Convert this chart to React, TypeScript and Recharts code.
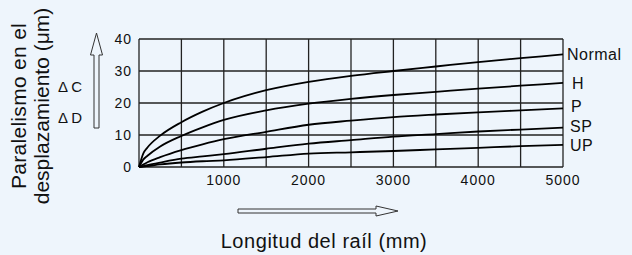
import React from "react";
import {
  LineChart,
  Line,
  XAxis,
  YAxis,
  CartesianGrid,
} from "recharts";

// rail length (mm)
const lengths = [0, 50, 100, 250, 500, 750, 1000, 1500, 2000, 2500, 3000, 3500, 4000, 4500, 5000];

// parallelism in motion (μm) per accuracy class
const normal = [0, 4.2, 6.1, 9.8, 14, 17.3, 20, 24, 26.6, 28.5, 30, 31.4, 32.8, 34, 35.2];
const high = [0, 2.3, 3.5, 6.4, 9.7, 12.4, 14.7, 17.7, 19.8, 21.3, 22.5, 23.5, 24.5, 25.4, 26.3];
const precision = [0, 0.8, 1.5, 3.1, 5.3, 7.1, 8.7, 11, 13.2, 14.5, 15.6, 16.4, 17.1, 17.7, 18.3];
const superPrecision = [0, 0.3, 0.6, 1.4, 2.6, 3.3, 4, 5.7, 7.3, 8.4, 9.5, 10.3, 11.1, 11.7, 12.3];
const ultraPrecision = [0, 0.15, 0.3, 0.8, 1.4, 1.8, 2.1, 3.1, 4.2, 4.6, 5, 5.5, 6, 6.5, 6.9];

const seriesNames = ["Normal", "H", "P", "SP", "UP"];
const seriesKeys = ["normal", "h", "p", "sp", "up"];

const xTicks = [0, 500, 1000, 1500, 2000, 2500, 3000, 3500, 4000, 4500, 5000];
const yTicks = [0, 10, 20, 30, 40];

const data = lengths.map((len, i) => ({
  len,
  normal: normal[i],
  h: high[i],
  p: precision[i],
  sp: superPrecision[i],
  up: ultraPrecision[i],
}));

const FONT = "'Liberation Sans', Arial, sans-serif";
const INK = "#111";

// end label offsets from the last point of each curve
const labelShift: Record<string, { dx: number; dy: number }> = {
  Normal: { dx: 4, dy: 0 },
  H: { dx: 9, dy: 0 },
  P: { dx: 8, dy: -2 },
  SP: { dx: 7, dy: -1 },
  UP: { dx: 7, dy: 0 },
};

const endLabel = (name: string) => (props: any) => {
  const { x, y, index } = props;
  if (index !== lengths.length - 1) return null;
  const s = labelShift[name];
  return (
    <text
      x={x + s.dx}
      y={y + s.dy}
      dy="0.36em"
      fontSize={16}
      letterSpacing={0.5}
      fontFamily={FONT}
      fill={INK}
    >
      {name}
    </text>
  );
};

const tickStyle = { fill: INK, fontSize: 14, fontFamily: FONT, letterSpacing: 1 };

const App: React.FC = () => {
  return (
    <div
      style={{
        position: "absolute",
        left: 0,
        top: 0,
        width: 632,
        height: 255,
        background: "#eef5fc",
        fontFamily: FONT,
      }}
    >
      <LineChart
        width={632}
        height={255}
        data={data}
        margin={{ top: 39, right: 69, left: 99, bottom: 58 }}
      >
        <CartesianGrid stroke="#222" strokeWidth={1.3} />
        <XAxis
          dataKey="len"
          type="number"
          domain={[0, 5000]}
          ticks={xTicks}
          tickFormatter={(v: number) => (v > 0 && v % 1000 === 0 ? String(v) : "")}
          axisLine={false}
          tickLine={false}
          tickSize={0}
          tickMargin={8}
          height={30}
          tick={tickStyle}
        />
        <YAxis
          type="number"
          domain={[0, 40]}
          ticks={yTicks}
          axisLine={false}
          tickLine={false}
          tickSize={0}
          tickMargin={7}
          width={40}
          tick={tickStyle}
        />
        {seriesKeys.map((k, i) => (
          <Line
            key={k}
            dataKey={k}
            type="monotone"
            stroke="#000"
            strokeWidth={1.8}
            dot={false}
            isAnimationActive={false}
            label={endLabel(seriesNames[i])}
          />
        ))}
      </LineChart>

      <svg
        width={632}
        height={255}
        style={{ position: "absolute", left: 0, top: 0, pointerEvents: "none" }}
      >
        <g fontFamily={FONT} fill={INK}>
          <text
            transform="translate(26, 106) rotate(-90)"
            textAnchor="middle"
            fontSize={21}
            letterSpacing={0.3}
          >
            Paralelismo en el
          </text>
          <text
            transform="translate(49, 106) rotate(-90)"
            textAnchor="middle"
            fontSize={21}
          >
            desplazamiento (μm)
          </text>
          <text x={58} y={92} fontSize={15}>Δ C</text>
          <text x={58} y={123} fontSize={15}>Δ D</text>
          <text x={324} y={248} textAnchor="middle" fontSize={20} letterSpacing={0.55}>
            Longitud del raíl (mm)
          </text>
        </g>
        {/* hollow up arrow */}
        <polygon
          points="94,128 99,128 99,55 102.5,55 96.5,33 90.5,55 94,55"
          fill="none"
          stroke="#333"
          strokeWidth={1}
        />
        {/* hollow right arrow */}
        <polygon
          points="238,209 376,209 376,206 398,211 376,216 376,213 238,213"
          fill="none"
          stroke="#333"
          strokeWidth={1}
        />
      </svg>
    </div>
  );
};

export default App;
